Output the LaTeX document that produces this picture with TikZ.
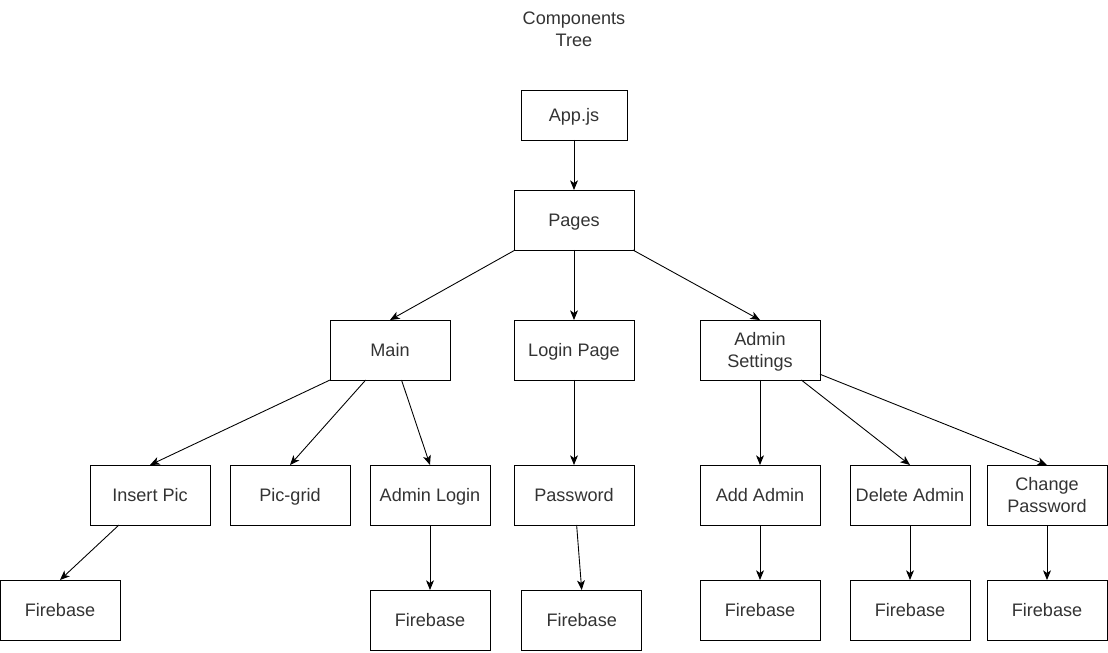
\documentclass[tikz,border=0pt]{standalone}
\usepackage{fontspec}
\setmainfont{Liberation Sans}
\usetikzlibrary{arrows.meta}

\begin{document}
\begin{tikzpicture}[x=0.02cm, y=-0.02cm,
	box/.style={draw, rectangle, minimum width=2.4cm, minimum height=1.2cm,
		inner sep=0pt, outer sep=0pt, align=center, text=black!80,
		font=\fontsize{10.3}{12.5}\selectfont, line width=.5pt,
		text height=9.95pt, text depth=2.6pt},
	twolines/.style={text height=22.45pt, text depth=2.6pt},
	link/.style={-{Stealth[length=5.5pt, width=4.5pt, inset=1.5pt]},
		line width=.5pt}]
	\useasboundingbox (0, 0) rectangle (1108, 652);
	\node (Title) at (574, 29) [align=center, text=black!80, inner sep=0pt,
		font=\fontsize{10.3}{12.5}\selectfont, twolines] {Components\\Tree};
	% top levels
	\node (App) at (574, 115) [box, minimum width=2.12cm, minimum
		height=1cm] {App.js};
	\node (Pages) at (574, 220) [box] {Pages};
	\node (Main) at (390, 350) [box] {Main};
	\node (Login) at (574, 350) [box] {Login Page};
	\node (Settings) at (760, 350) [box, twolines] {Admin\\Settings};
	% components
	\node (Insert) at (150, 495) [box] {Insert Pic};
	\node (Grid) at (290, 495) [box] {Pic-grid};
	\node (AdminLogin) at (430, 495) [box] {Admin Login};
	\node (Password) at (574, 495) [box] {Password};
	\node (AddAdmin) at (760, 495) [box] {Add Admin};
	\node (DelAdmin) at (910, 495) [box] {Delete Admin};
	\node (ChangePw) at (1047, 495) [box, twolines] {Change\\Password};
	% firebase
	\node (F1) at (60, 610) [box] {Firebase};
	\node (F2) at (430, 620) [box] {Firebase};
	\node (F3) at (581.7, 620) [box] {Firebase};
	\node (F4) at (760, 610) [box] {Firebase};
	\node (F5) at (910, 610) [box] {Firebase};
	\node (F6) at (1047, 610) [box] {Firebase};

	\draw[link] (App) -- (Pages);
	\draw[link] (Pages.207.8) -- (Main.north);
	\draw[link] (Pages) -- (Login);
	\draw[link] (Pages.-27.4) -- (Settings.north);
	\draw[link] (Main.south west) -- (Insert.north);
	\draw[link] (Main.-129.8) -- (Grid.north);
	\draw[link] (Main.-69.9) -- (AdminLogin.north);
	\draw[link] (Login) -- (Password);
	\draw[link] (Settings) -- (AddAdmin);
	\draw[link] (Settings.-36.9) -- (DelAdmin.north);
	\draw[link] (Settings.-22.6) -- (ChangePw.north);
	\draw[link] (Insert.-136.8) -- (F1.north);
	\draw[link] (AdminLogin) -- (F2);
	\draw[link] (Password.-85) -- (F3.north);
	\draw[link] (AddAdmin) -- (F4);
	\draw[link] (DelAdmin) -- (F5);
	\draw[link] (ChangePw) -- (F6);
\end{tikzpicture}
\end{document}
